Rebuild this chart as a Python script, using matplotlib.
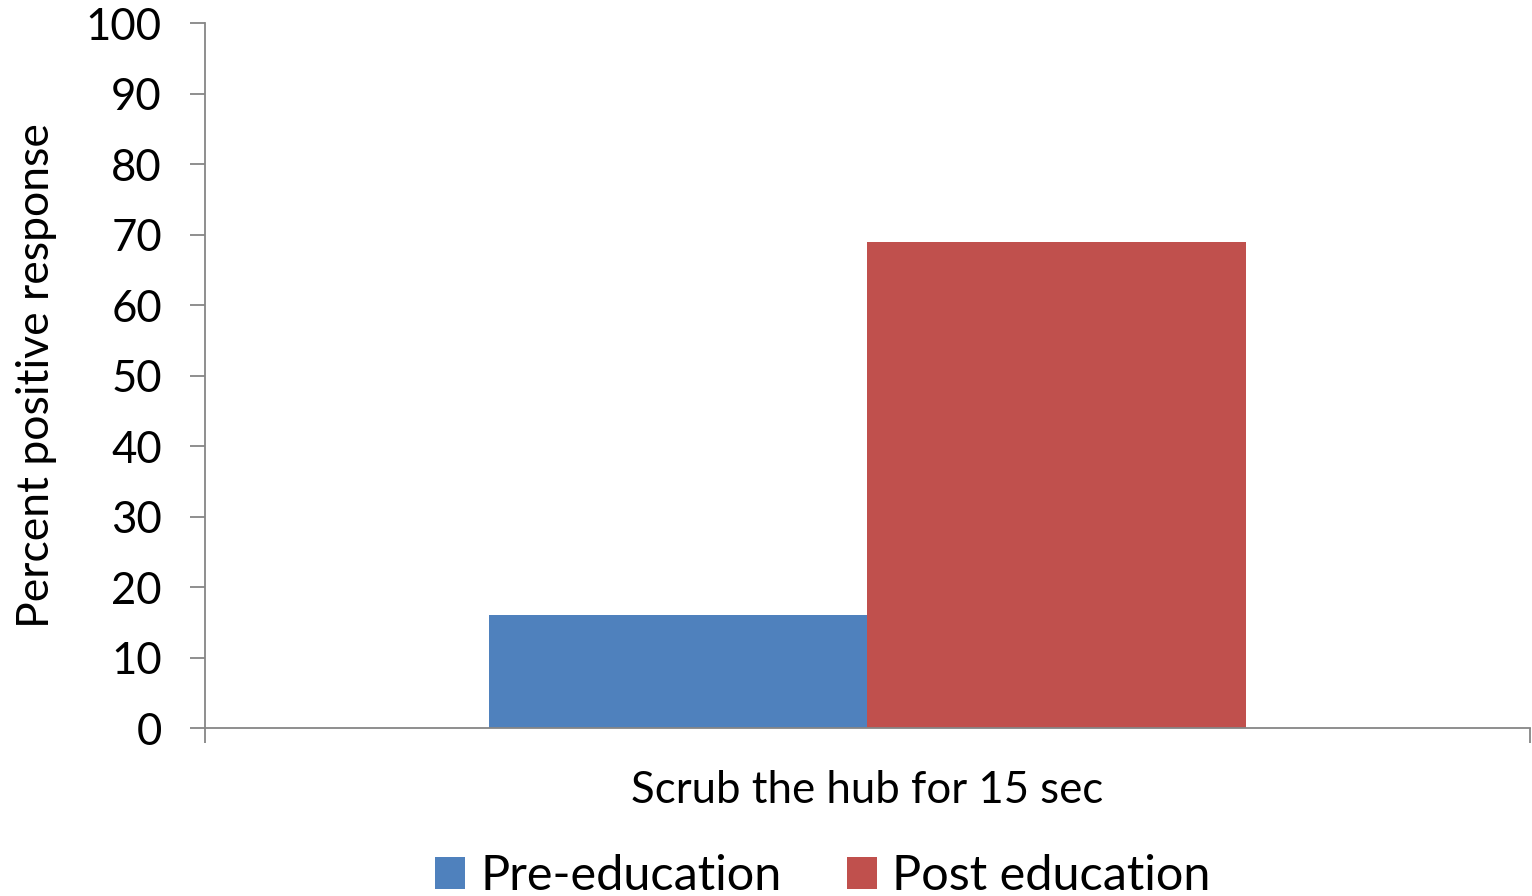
import matplotlib
matplotlib.use("Agg")
import matplotlib.pyplot as plt
from matplotlib.patches import Patch

plt.rcParams['font.family'] = ['Lato', 'DejaVu Sans']

# survey results for the single practice question
category = "Scrub the hub for 15 sec"
groups = ["Pre-education", "Post education"]
values = [16, 69]
colors = ["#4F81BD", "#C0504D"]

fig = plt.figure(figsize=(15.32, 8.96), dpi=100)
ax = fig.add_axes([0.1338, 0.1875, 0.8649, 0.7868])

width = 0.2855
offsets = [-width / 2, width / 2]
for off, v, c in zip(offsets, values, colors):
    ax.bar(off, v, width=width, color=c, zorder=2)

ax.set_xlim(-0.5, 0.5)
ax.set_ylim(0, 100)
ax.set_yticks(range(0, 101, 10))
ax.set_xticks([-0.5, 0.5])
ax.set_xticklabels(["", ""])

for s in ["top", "right"]:
    ax.spines[s].set_visible(False)
for s in ["left", "bottom"]:
    ax.spines[s].set_color("#868686")
    ax.spines[s].set_linewidth(1.3)
ax.tick_params(axis="both", colors="#868686", length=11, width=1.3)
ax.tick_params(axis="y", labelcolor="black", labelsize=31.5, pad=20)

ax.set_ylabel("Percent positive response", fontsize=32, labelpad=21)
ax.set_xlabel(category, fontsize=31.5, labelpad=16)

handles = [Patch(facecolor=c, label=g) for g, c in zip(groups, colors)]
fig.legend(handles=handles, loc="center", bbox_to_anchor=(0.537, 0.022),
           ncol=2, frameon=False, fontsize=35, handlelength=0.62,
           handleheight=0.62, handletextpad=0.3, columnspacing=1.35)

fig.savefig("out.png", dpi=100)
